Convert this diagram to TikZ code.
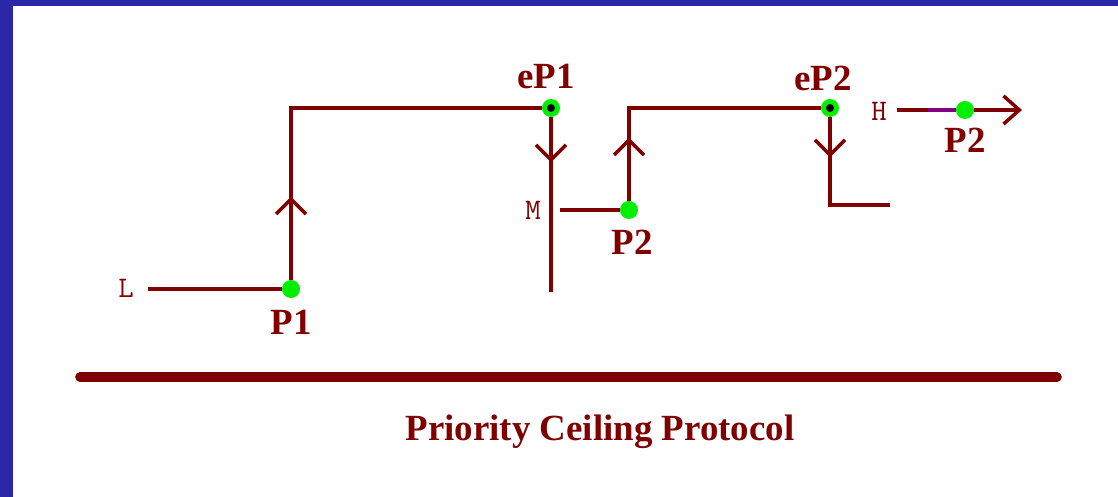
\documentclass[tikz,border=0pt]{standalone}
\usepackage{fontspec}
\setmainfont{Liberation Serif}
\usetikzlibrary{arrows.meta, positioning, decorations.markings}
\definecolor{maroon}{RGB}{128,0,0}
\definecolor{dotgreen}{RGB}{0,238,0}
\definecolor{frameblue}{RGB}{42,40,168}
\definecolor{linkpurple}{RGB}{128,0,128}

\begin{document}
\begin{tikzpicture}[
  wire/.style={draw=maroon, line width=2pt},
  flow/.style={postaction={decorate}, decoration={markings,
    mark=at position #1 with {\arrow[maroon, line width=2pt]{Straight Barb[length=8.5pt, width=17pt]}}}},
  dot/.style={circle, fill=dotgreen, inner sep=0pt, minimum size=0.36cm},
  edot/.style={dot, path picture={\fill[black] (path picture bounding box.center) circle (0.08);}},
  tag/.style={font=\fontsize{21}{24}\selectfont\bfseries, text=maroon},
  lvl/.style={font=\ttfamily\fontsize{17}{19}\selectfont, text=maroon}
]
  % frame
  \fill[white] (0,0) rectangle (22.36,-9.94);
  \fill[frameblue] (0,0) rectangle (0.26,-9.94);
  \fill[frameblue] (0,0) rectangle (22.36,-0.12);
  \useasboundingbox (0,0) rectangle (22.36,-9.94);

  % task L
  \node[lvl] (L) at (2.52,-5.76) {L};
  \coordinate (Lstart) at (2.96,-5.78);
  \node[dot] (P1) at (5.82,-5.78) {};
  \node[tag] (P1tag) at (5.82,-6.44) {P1};
  \coordinate (c1) at (5.82,-2.16);
  \node[edot] (eP1) at (11.02,-2.16) {};
  \node[tag] (eP1tag) at (10.92,-1.52) {eP1};
  \coordinate (m1) at (11.02,-5.84);

  % task M
  \node[lvl, anchor=east] (M) at (10.94,-4.20) {M};
  \coordinate (Mstart) at (11.20,-4.20);
  \node[dot] (P2a) at (12.58,-4.20) {};
  \node[tag] (P2atag) at (12.64,-4.84) {P2};
  \coordinate (c2) at (12.58,-2.16);
  \node[edot] (eP2) at (16.60,-2.16) {};
  \node[tag] (eP2tag) at (16.46,-1.56) {eP2};
  \coordinate (c3) at (16.60,-4.10);
  \coordinate (c4) at (17.80,-4.10);

  % task H
  \node[lvl] (H) at (17.58,-2.22) {H};
  \coordinate (Hstart) at (17.94,-2.20);
  \coordinate (Hmid) at (18.56,-2.20);
  \node[dot] (P2b) at (19.30,-2.20) {};
  \node[tag] (P2btag) at (19.30,-2.80) {P2};
  \coordinate (Hend) at (20.44,-2.20);

  \draw[wire] (Lstart) -- (P1);
  \draw[wire, flow=1.66cm] (P1) -- (c1) -- (eP1);
  \draw[wire, flow=0.90cm] (eP1) -- (m1);
  \draw[wire] (Mstart) -- (P2a);
  \draw[wire, flow=1.26cm] (P2a) -- (c2) -- (eP2);
  \draw[wire, flow=0.80cm] (eP2) -- (c3) -- (c4);
  \draw[wire] (Hstart) -- (Hmid);
  \draw[draw=linkpurple, line width=2pt] (Hmid) -- (P2b);
  \draw[wire, -{Straight Barb[length=9pt, width=16pt]}] (P2b) -- (Hend);

  % time line
  \coordinate (base1) at (1.60,-7.54);
  \coordinate (base2) at (21.14,-7.54);
  \draw[maroon, line width=5.5pt, line cap=round] (base1) -- (base2);
  \node[tag] (title) at (12.0,-8.64) {Priority Ceiling Protocol};
\end{tikzpicture}
\end{document}
